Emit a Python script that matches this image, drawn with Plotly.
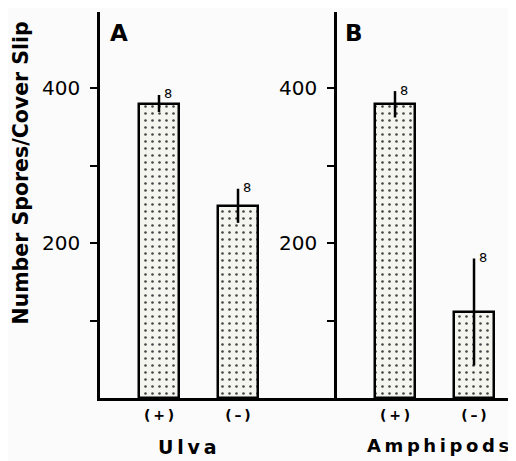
import plotly.graph_objects as go

categories = ["(+)", "(-)"]
category_labels = ["<b>(\u2009+\u2009)</b>", "<b>(\u2009\u2013\u2009)</b>"]
ulva_values = [380, 248]
ulva_errors = [11, 22]
amph_values = [379, 111]
amph_errors = [17, 69]
n_labels = ["8", "8"]
y_tickvals = [100, 200, 300, 400]
y_ticktext = ["", "200", "", "400"]

FONT = "DejaVu Sans, sans-serif"
BG = "#fbfbfb"
pattern = dict(shape=".", size=7, solidity=0.11, fgcolor="#444444", bgcolor="#f5f5ef", fillmode="replace")

# page offset (default body margin) and window size
OFF = 8
WIN_W, WIN_H = 516, 461
W, H = WIN_W - OFF, WIN_H - OFF
# plot area in window pixels
L, R, T, B = 100, 514, 12, 398
pw, ph = R - L, B - T

def px(x):
    return (x - L) / pw

def py(y):
    return (B - y) / ph

fig = go.Figure()
for xa, ya, vals, errs in [("x", "y", ulva_values, ulva_errors), ("x2", "y2", amph_values, amph_errors)]:
    fig.add_trace(go.Bar(
        x=categories, y=vals, width=0.5, xaxis=xa, yaxis=ya,
        marker=dict(color="#f5f5ef", line=dict(color="black", width=2.5), pattern=pattern),
        error_y=dict(type="data", array=errs, visible=True, width=0, thickness=2.5, color="black"),
        showlegend=False))

ann = []
for xa, ya, vals, errs in [("x", "y", ulva_values, ulva_errors), ("x2", "y2", amph_values, amph_errors)]:
    for c, v, e, n in zip(categories, vals, errs, n_labels):
        ann.append(dict(x=c, y=v + e, xref=xa, yref=ya, text=n, showarrow=False,
                        xanchor="left", yanchor="middle", xshift=3, yshift=1,
                        font=dict(family=FONT, size=13, color="black")))
ann.append(dict(x=px(108), y=py(33), xref="paper", yref="paper", text="<b>A</b>", showarrow=False,
                xanchor="left", yanchor="middle", font=dict(family=FONT, size=23, color="black")))
ann.append(dict(x=px(343), y=py(33), xref="paper", yref="paper", text="<b>B</b>", showarrow=False,
                xanchor="left", yanchor="middle", font=dict(family=FONT, size=23, color="black")))
ann.append(dict(x=px(187), y=py(447), xref="paper", yref="paper",
                text="<b>U\u2009l\u2009v\u2009a</b>", showarrow=False,
                xanchor="center", yanchor="middle", font=dict(family=FONT, size=19, color="black")))
ann.append(dict(x=px(438), y=py(445), xref="paper", yref="paper",
                text="<b>A\u2009m\u2009p\u2009h\u2009i\u2009p\u2009o\u2009d\u2009s</b>", showarrow=False,
                xanchor="center", yanchor="middle", font=dict(family=FONT, size=18, color="black")))
ann.append(dict(x=px(20), y=py(173.5), xref="paper", yref="paper",
                text="<b>Number Spores/Cover Slip</b>", showarrow=False, textangle=-90,
                xanchor="center", yanchor="middle", font=dict(family=FONT, size=20.5, color="black")))

split = px(337)
yr = [0, ph / 0.775]
xcommon = dict(showline=True, linecolor="black", linewidth=2.5, ticks="", showgrid=False,
               zeroline=False, tickfont=dict(family=FONT, size=14, color="black"),
               tickvals=categories, ticktext=category_labels, ticklabelstandoff=2,
               automargin=False, fixedrange=True)
ycommon = dict(range=yr, showline=True, linecolor="black", linewidth=2.5, ticks="outside",
               ticklen=7, tickwidth=2, tickcolor="black", tickvals=y_tickvals, ticktext=y_ticktext,
               ticklabelstandoff=6, automargin=False,
               showgrid=False, zeroline=False, tickfont=dict(family=FONT, size=20, color="black"))

fig.update_layout(
    width=W, height=H,
    margin=dict(l=L - OFF, r=W - (R - OFF), t=T - OFF, b=H - (B - OFF), autoexpand=False),
    paper_bgcolor=BG, plot_bgcolor=BG,
    bargap=0,
    xaxis=dict(domain=[0, split], range=[-0.747, 2.253], anchor="y", **xcommon),
    xaxis2=dict(domain=[split, 1], range=[-0.734, 1.506], anchor="y2", **xcommon),
    yaxis=dict(anchor="x", **ycommon),
    yaxis2=dict(anchor="x2", **ycommon),
    annotations=ann,
)

fig.write_html("out.html")
